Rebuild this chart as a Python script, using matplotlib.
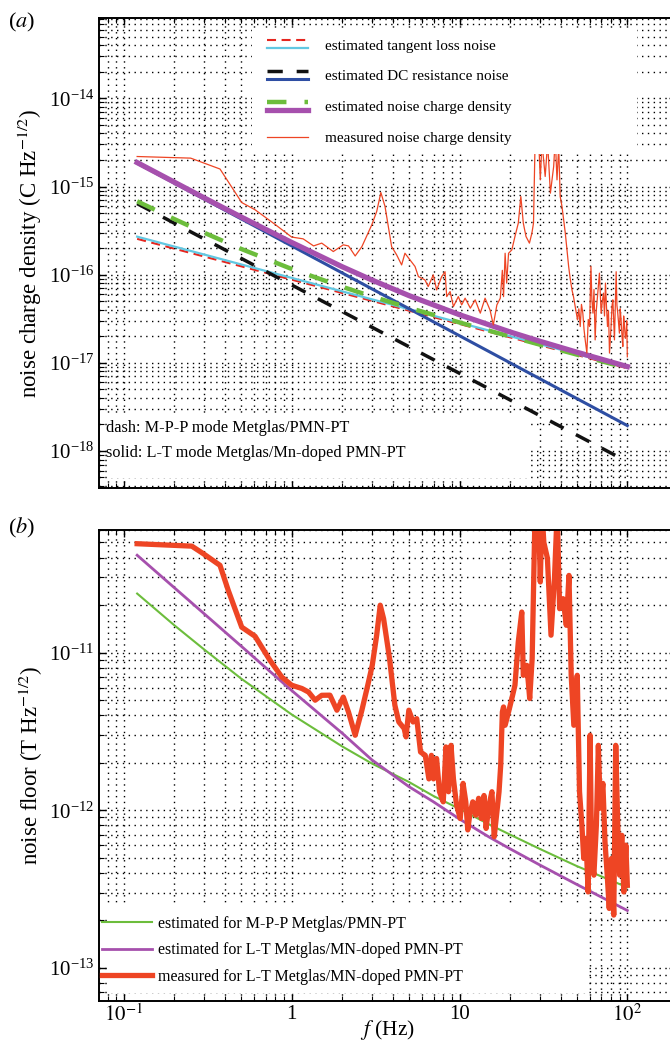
import numpy as np
import matplotlib
matplotlib.use('Agg')
import matplotlib.pyplot as plt
from matplotlib.patches import Rectangle
from matplotlib.lines import Line2D
from matplotlib.legend_handler import HandlerBase
from matplotlib.ticker import LogLocator, FixedLocator, FixedFormatter, NullFormatter, LogFormatterMathtext

plt.rcParams['font.family'] = ['Liberation Serif', 'DejaVu Serif']
plt.rcParams['mathtext.fontset'] = 'stix'
plt.rcParams['lines.scale_dashes'] = False

# ---------------- data: panel (a) noise charge density (C Hz^-1/2) ----------------
f_lines = [0.12, 100]
tangent_mpp = [2.55e-16, 8.67e-18]      # red dashed
tangent_lt = [2.70e-16, 8.85e-18]       # cyan solid
dc_mpp = [6.40e-16, 7.56e-19]           # black dashed
dc_lt = [1.84e-15, 1.94e-18]            # blue solid

f_total = [0.12, 0.2, 0.3, 0.5, 1, 2, 3, 5, 10, 20, 30, 50, 100]
total_mpp = [6.80e-16, 4.27e-16, 3.00e-16, 1.96e-16, 1.16e-16, 7.29e-17, 5.67e-17,
             4.21e-17, 2.87e-17, 1.99e-17, 1.61e-17, 1.24e-17, 8.70e-18]
total_lt = [1.87e-15, 1.12e-15, 7.46e-16, 4.51e-16, 2.32e-16, 1.23e-16, 8.71e-17,
            5.79e-17, 3.51e-17, 2.24e-17, 1.76e-17, 1.32e-17, 9.06e-18]

f_meas_a = [0.12, 0.25, 0.374, 0.504, 0.605, 0.778, 1.0, 1.17, 1.35, 1.51, 1.77, 2.03,
            2.18, 2.39, 2.62, 3.0, 3.21, 3.40, 3.60, 3.94, 4.22, 4.52, 4.73, 5.07, 5.43,
            5.69, 6.22, 6.51, 6.98, 7.31, 7.83, 8.20, 8.39, 8.79, 9.20, 9.84, 10.3, 10.8,
            11.6, 12.4, 13.3, 14.2, 15.2, 15.9, 16.7, 17.5, 18.0, 18.3, 18.7, 19.1, 19.6,
            20.5, 21.4, 22.4, 23.2, 24.0, 24.9, 26.1, 27.0, 27.6, 28.2, 29.6, 30.3, 31.0,
            32.4, 33.5, 34.8, 36.4, 37.2, 38.1, 39.0, 39.8, 40.8, 42.7, 44.7, 45.6, 46.8,
            47.8, 48.9, 50.5, 51.4, 52.4, 53.3, 54.3, 55.2, 56.1, 57.4, 58.5, 59.6, 60.7,
            61.5, 62.4, 63.3, 64.3, 65.3, 66.4, 68.2, 69.8, 71.0, 72.1, 73.1, 74.1, 75.2,
            76.2, 77.2, 78.3, 80.0, 81.0, 82.0, 83.8, 85.8, 86.7, 87.7, 89.7, 90.7, 91.8,
            93.0, 94.0, 95.1, 96.2, 97.3, 98.4, 99.2, 100]
meas_a = [2.19e-15, 2.10e-15, 1.58e-15, 6.58e-16, 5.45e-16, 3.84e-16, 2.67e-16, 2.55e-16,
          2.12e-16, 2.28e-16, 1.83e-16, 2.18e-16, 2.12e-16, 1.63e-16, 2.08e-16, 3.67e-16,
          5.20e-16, 8.55e-16, 5.93e-16, 2.08e-16, 1.68e-16, 1.29e-16, 1.75e-16, 1.47e-16,
          1.24e-16, 9.51e-17, 8.73e-17, 7.33e-17, 9.95e-17, 6.71e-17, 9.51e-17, 1.08e-16,
          5.64e-17, 6.43e-17, 4.35e-17, 5.64e-17, 4.54e-17, 5.41e-17, 4.17e-17, 5.18e-17,
          3.66e-17, 5.41e-17, 3.98e-17, 2.69e-17, 4.54e-17, 5.41e-17, 1.12e-16, 5.64e-17,
          1.75e-16, 8.02e-17, 1.75e-16, 1.91e-16, 2.71e-16, 3.84e-16, 7.71e-16, 3.84e-16,
          2.71e-16, 2.28e-16, 2.96e-16, 3.84e-16, 3.16e-15, 3.55e-15, 1.19e-15, 3.16e-15,
          1.30e-15, 3.16e-15, 8.41e-16, 1.69e-15, 3.55e-15, 1.19e-15, 2.82e-15, 7.71e-16,
          5.93e-16, 2.96e-16, 1.24e-16, 9.20e-17, 6.71e-17, 5.60e-17, 4.35e-17, 3.07e-17,
          4.10e-17, 2.58e-17, 4.60e-17, 3.66e-17, 2.40e-17, 1.82e-17, 1.29e-17, 3.10e-17,
          2.58e-17, 1.24e-16, 5.20e-17, 3.66e-17, 6.80e-17, 1.82e-17, 3.90e-17, 5.64e-17,
          1.04e-16, 3.66e-17, 5.00e-17, 6.17e-17, 3.40e-17, 8.02e-17, 4.20e-17, 2.58e-17,
          3.90e-17, 1.29e-17, 2.58e-17, 4.40e-17, 5.18e-17, 1.82e-17, 1.08e-16, 4.50e-17,
          3.66e-17, 2.17e-17, 4.10e-17, 3.07e-17, 2.00e-17, 1.53e-17, 3.40e-17, 2.58e-17,
          1.90e-17, 2.17e-17, 3.00e-17, 1.17e-17]

# ---------------- data: panel (b) noise floor (T Hz^-1/2) ----------------
f_floor = [0.12, 0.2, 0.3, 0.5, 1, 2, 3, 5, 7, 10, 15, 20, 30, 50, 100]
floor_mpp = [2.37e-11, 1.49e-11, 1.05e-11, 6.84e-12, 4.05e-12, 2.54e-12, 1.98e-12,
             1.51e-12, 1.23e-12, 1.02e-12, 8.13e-13, 7.00e-13, 5.69e-13, 4.42e-13, 3.24e-13]
floor_lt = [4.15e-11, 2.58e-11, 1.77e-11, 1.10e-11, 5.75e-12, 3.08e-12, 2.09e-12,
            1.41e-12, 1.13e-12, 8.79e-13, 6.76e-13, 5.69e-13, 4.50e-13, 3.38e-13, 2.31e-13]

f_meas_b = [0.12, 0.254, 0.297, 0.374, 0.419, 0.504, 0.605, 0.743, 0.873, 1.0, 1.15, 1.26,
            1.38, 1.51, 1.69, 1.86, 2.03, 2.18, 2.39, 2.62, 2.84, 3.02, 3.21, 3.37, 3.53,
            3.83, 4.12, 4.35, 4.68, 4.80, 4.99, 5.29, 5.56, 5.86, 6.25, 6.57, 6.8, 7.0, 7.3,
            7.6, 8.0, 8.3, 8.6, 8.9, 9.2, 9.6, 10.1, 10.5, 10.9, 11.2, 11.5, 12.0, 12.5, 13.0,
            13.5, 14.0, 14.4, 15.0, 15.6, 16.1, 16.7, 17.2, 17.6, 18.0, 18.3, 18.7, 19.6,
            20.5, 21.4, 22.4, 23.5, 24.0, 25.2, 26.2, 27.1, 28.2, 29.5, 30.3, 31.0, 31.8,
            33.4, 35.1, 36.8, 38.2, 39.5, 41.4, 43.3, 44.9, 46.3, 48.0, 50.3, 51.9, 53.6,
            55.0, 56.7, 58.4, 60.0, 61.3, 63.2, 65.4, 67.2, 69.0, 71.5, 73.6, 75.9, 78.0,
            80.5, 83.0, 85.3, 87.7, 90.0, 92.7, 95.3, 98.0, 100]
meas_b = [4.91e-11, 4.74e-11, 4.25e-11, 3.58e-11, 2.48e-11, 1.45e-11, 1.27e-11, 8.93e-12,
          7.00e-12, 6.21e-12, 5.92e-12, 5.62e-12, 4.99e-12, 5.36e-12, 5.37e-12, 4.31e-12,
          5.22e-12, 4.20e-12, 2.99e-12, 4.31e-12, 6.21e-12, 8.30e-12, 1.29e-11, 2.00e-11,
          1.64e-11, 9.16e-12, 4.63e-12, 3.63e-12, 3.30e-12, 2.92e-12, 4.31e-12, 3.63e-12,
          3.81e-12, 2.34e-12, 2.23e-12, 1.58e-12, 2.23e-12, 1.58e-12, 2.13e-12, 1.31e-12,
          1.13e-12, 2.52e-12, 1.31e-12, 2.58e-12, 1.58e-12, 1.08e-12, 8.85e-13, 1.48e-12,
          1.13e-12, 7.50e-13, 9.29e-13, 1.13e-12, 9.29e-13, 1.19e-12, 8.85e-13, 1.24e-12,
          7.66e-13, 1.08e-12, 1.31e-12, 6.78e-13, 9.75e-13, 1.31e-12, 1.93e-12, 4.20e-12,
          4.52e-12, 3.46e-12, 4.20e-12, 5.11e-12, 6.21e-12, 1.17e-11, 1.81e-11, 7.18e-12,
          8.30e-12, 5.11e-12, 9.16e-12, 7.94e-11, 8.91e-11, 2.81e-11, 7.94e-11, 5.01e-11,
          3.98e-11, 1.29e-11, 2.94e-11, 7.94e-11, 1.90e-11, 2.20e-11, 1.49e-11, 3.09e-11,
          7.18e-12, 3.46e-12, 7.18e-12, 1.31e-12, 8.04e-13, 4.94e-13, 6.62e-13, 3.03e-13,
          2.99e-12, 4.94e-13, 3.87e-13, 8.04e-13, 2.58e-12, 1.03e-12, 1.48e-12, 6.30e-13,
          3.87e-13, 2.38e-13, 4.94e-13, 2.16e-13, 2.58e-12, 8.04e-13, 3.87e-13, 6.93e-13,
          3.03e-13, 6.00e-13, 3.34e-13]

x_tick_vals = [0.1, 1, 10, 100]
x_tick_labels = ['$10^{-1}$', '1', '10', '$10^{2}$']
y_ticks_a = [1e-18, 1e-17, 1e-16, 1e-15, 1e-14]
y_ticks_b = [1e-13, 1e-12, 1e-11]

labels_a = ['estimated tangent loss noise', 'estimated DC resistance noise',
            'estimated noise charge density', 'measured noise charge density']
labels_b = ['estimated for M-P-P Metglas/PMN-PT', 'estimated for L-T Metglas/MN-doped PMN-PT',
            'measured for L-T Metglas/MN-doped PMN-PT']
note_lines = ['dash: M-P-P mode Metglas/PMN-PT', 'solid: L-T mode Metglas/Mn-doped PMN-PT']

# ---------------- colours ----------------
C_RED = '#e5261f'
C_CYAN = '#62c8e2'
C_BLACK = '#111111'
C_BLUE = '#2e4ea3'
C_GREEN = '#6cbd3c'
C_MAG = '#a650ad'
C_MEAS = '#ee4524'


class HandlerStack(HandlerBase):
    def __init__(self, gap=6.0, **kw):
        super().__init__(**kw)
        self.gap = gap

    def create_artists(self, legend, orig_handle, xdescent, ydescent, width, height,
                       fontsize, trans):
        arts = []
        n = len(orig_handle)
        ymid = (height - ydescent) / 2
        for i, h in enumerate(orig_handle):
            y = ymid + ((n - 1) / 2 - i) * self.gap
            ln = Line2D([-xdescent, width - xdescent], [y, y])
            ln.update_from(h)
            ln.set_transform(trans)
            arts.append(ln)
        return arts


W, H = 670, 1051
fig = plt.figure(figsize=(W / 100, H / 100), dpi=100)


def px_rect(left, top, right, bottom):
    return [left / W, 1 - bottom / H, (right - left) / W, (bottom - top) / H]


ax1 = fig.add_axes(px_rect(99, 18.3, 676, 488))
ax2 = fig.add_axes(px_rect(99, 530, 676, 1000.5))


def style(ax, ylim, yticks):
    ax.set_xscale('log')
    ax.set_yscale('log')
    ax.set_xlim(0.0711, 195)
    ax.set_ylim(*ylim)
    ax.xaxis.set_major_locator(FixedLocator(x_tick_vals))
    ax.xaxis.set_minor_locator(LogLocator(base=10, subs=np.arange(2, 10), numticks=60))
    ax.yaxis.set_major_locator(FixedLocator(yticks))
    ax.yaxis.set_major_formatter(LogFormatterMathtext())
    ax.yaxis.set_minor_locator(LogLocator(base=10, subs=np.arange(2, 10), numticks=60))
    ax.yaxis.set_minor_formatter(NullFormatter())
    ax.xaxis.set_minor_formatter(NullFormatter())
    ax.set_axisbelow(True)
    ax.grid(True, which='both', color='black', linestyle=(0, (1, 3.2)), linewidth=1.0)
    ax.tick_params(which='both', direction='in', top=True, right=True, labelsize=15)
    ax.tick_params(which='major', length=5, width=1.0)
    ax.tick_params(which='minor', length=3.5, width=0.8)
    for s in ax.spines.values():
        s.set_linewidth(1.4)


style(ax1, (3.8e-19, 8.1e-14), y_ticks_a)
style(ax2, (6.2e-14, 6.0e-11), y_ticks_b)
ax1.tick_params(labelbottom=False)
ax2.xaxis.set_major_formatter(FixedFormatter(x_tick_labels))
ax2.tick_params(axis='x', pad=3)

# ---------------- panel (a) ----------------
l_red, = ax1.plot(f_lines, tangent_mpp, color=C_RED, lw=1.5, dashes=(6.5, 4), zorder=2)
l_cyan, = ax1.plot(f_lines, tangent_lt, color=C_CYAN, lw=1.6, zorder=2.1)
l_black, = ax1.plot(f_lines, dc_mpp, color=C_BLACK, lw=2.5, dashes=(11, 10), zorder=2.2)
l_blue, = ax1.plot(f_lines, dc_lt, color=C_BLUE, lw=2.2, zorder=2.3)
l_green, = ax1.plot(f_total, total_mpp, color=C_GREEN, lw=3.2, dashes=(14, 13), zorder=2.4)
l_mag, = ax1.plot(f_total, total_lt, color=C_MAG, lw=3.8, zorder=2.5)
l_meas, = ax1.plot(f_meas_a, meas_a, color=C_MEAS, lw=0.9, zorder=2.6)

ax1.add_patch(Rectangle((0.265, 0.711), 0.667, 0.268, transform=ax1.transAxes,
                        facecolor='white', edgecolor='none', zorder=4))
ax1.add_patch(Rectangle((0.014, 0.021), 0.733, 0.134, transform=ax1.transAxes,
                        facecolor='white', edgecolor='none', zorder=4))
leg1 = ax1.legend([(l_red, l_cyan), (l_black, l_blue), (l_green, l_mag), l_meas], labels_a,
                  handler_map={tuple: HandlerStack(gap=6.0)}, loc='upper left',
                  bbox_to_anchor=(0.291, 0.956), frameon=False, fontsize=11,
                  handlelength=2.7, handletextpad=1.1, labelspacing=1.12,
                  borderpad=0, borderaxespad=0)
leg1.set_zorder(5)
ax1.text(0.012, 0.127, note_lines[0], transform=ax1.transAxes, fontsize=11.7,
         va='center', ha='left', zorder=5)
ax1.text(0.012, 0.074, note_lines[1], transform=ax1.transAxes, fontsize=11.7,
         va='center', ha='left', zorder=5)
ax1.set_ylabel('noise charge density (C Hz$^{-1/2}$)', fontsize=16.5, labelpad=3)

# ---------------- panel (b) ----------------
m_green, = ax2.plot(f_floor, floor_mpp, color=C_GREEN, lw=1.5, zorder=2)
m_mag, = ax2.plot(f_floor, floor_lt, color=C_MAG, lw=2.0, zorder=2.1)
m_meas, = ax2.plot(f_meas_b, meas_b, color=C_MEAS, lw=3.8, zorder=2.2,
                   solid_joinstyle='round')
ax2.add_patch(Rectangle((0.014, 0.016), 0.833, 0.187, transform=ax2.transAxes,
                        facecolor='white', edgecolor='none', zorder=4))
leg2 = ax2.legend([m_green, m_mag, m_meas], labels_b, loc='upper left',
                  bbox_to_anchor=(0.006, 0.180), frameon=False, fontsize=11.5,
                  handlelength=3.1, handletextpad=0.4, labelspacing=0.65,
                  borderpad=0, borderaxespad=0)
leg2.set_zorder(5)
ax2.set_ylabel('noise floor (T Hz$^{-1/2}$)', fontsize=16.5, labelpad=3)
ax2.set_xlabel('$f$ (Hz)', fontsize=15.5)
ax2.xaxis.label.set_va('center')
ax2.xaxis.set_label_coords((387 - 99) / 577, (1000.5 - 1030) / 470.5)

fig.text(8 / W, 1 - 22 / H, r'($\mathit{a}$)', fontsize=16, va='center', ha='left')
fig.text(8 / W, 1 - 528 / H, r'($\mathit{b}$)', fontsize=16, va='center', ha='left')

fig.savefig('out.png', dpi=100)
